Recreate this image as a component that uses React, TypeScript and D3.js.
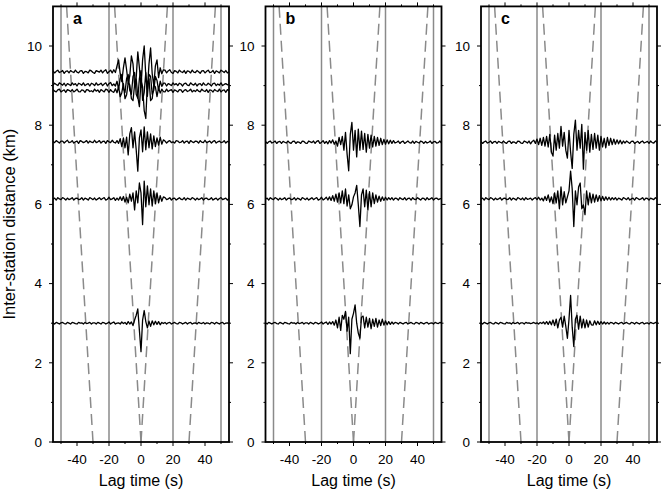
import React from "react";
import * as d3 from "d3";

// Lag time sample grid: t = -55 .. 55 s, 1 s step (index i -> t = -55 + i)
const T0 = -55;

// Trace offsets from baseline, in units of 0.01 km
// Panel a
const a1 = [
  2, -3, 1, 4, -2, 0, 3, -4, 1, 2, -3, 3, 0, -2, 4, -1, -3, 2, 3, -4, 1, 0, -3, 4, 2, -2, -4, 3, 1, -1, 4, -3, 2, 5, -4, 0, 4, -3, 5, -2,
  15, 30, -5, -25, 10, 35, 5, -30, -10, 40, 20, -35, -15, 50, 10, -40, 30, 65, -10, -45, 20, 60, -5, -35, 15, 30, -15, 10, -5, 5,
  4, -3, 2, 5, -2, -4, 3, 1, -3, 4, 0, -2, 3, -4, 2, 1, -3, 4, -1, -2, 3, 0, -4, 2, 3, -3, 1, 4, -2, -1, 3, -4, 2, 0, -3, 4, 1, -2, 3, -3, 0,
];
const a2 = [
  -2, 3, 0, -3, 4, 1, -2, 3, -4, 2, 0, -3, 4, -1, 2, -4, 3, 1, -2, 4, -3, 0, 2, -4, 3, 1, -3, 4, -2, 0, 3, -3, 1, 4, -4, 2, 5, -3, 1, -4,
  8, -12, 15, 25, -10, -20, 15, 25, -15, -25, 20, 30, -25, -35, 15, 35, -40, -20, 30, -30, 25, 20, -25, -15, 20, 10, -15, 8, -5, 3,
  3, -4, 2, 0, -3, 4, -1, 2, -3, 3, 1, -4, 2, 3, -2, -3, 4, 0, -2, 3, -4, 1, 2, -3, 4, -1, -2, 3, 0, -4, 2, 3, -3, 1, -2, 4, -3, 0, 2, -1, 1,
];
const a3 = [
  3, -1, -3, 2, 4, -3, 0, 2, -4, 3, 1, -2, 3, -3, 0, 4, -2, -3, 2, 1, -4, 3, 2, -2, 0, -3, 4, -1, 2, -4, 3, 0, -3, 4, 2, -4, 3, -2, -4, 5,
  -5, 10, -15, -5, 18, -20, -10, 20, 15, -20, -25, 15, 30, -15, -40, 25, 10, -50, -70, 20, 30, -25, -20, 15, 10, -15, 8, -6, 4, -2,
  -3, 4, -2, 1, 3, -4, 2, 0, -3, 3, 2, -4, 1, 3, -2, 0, 4, -3, 1, -2, 3, -1, -3, 4, 0, -2, 3, -4, 2, 1, -3, 3, 0, -2, 4, -3, 1, 2, -4, 3, 0,
];
const a4 = [
  1, -2, 3, 0, -3, 2, 2, -3, 1, 4, -2, -1, 3, -3, 0, 2, -4, 3, 1, -2, 0, 3, -3, 2, -1, -2, 4, -2, 0, 3, -3, 1, 2, -4, 3, 0, -2, 4, -1, -3,
  3, -4, 8, -12, 10, -15, 12, -33, 20, 36, -15, 25, -20, -74, 10, 30, -25, 38, -20, 25, -15, 20, -18, 15, -12, 10, -8, 12, -6, 5,
  2, -3, 1, 3, -2, 0, -3, 3, 2, -2, -1, 3, -3, 1, 2, -4, 3, 0, -2, 2, 1, -3, 3, -1, -2, 4, -2, 0, 2, -3, 1, 3, -3, 0, 2, -2, -1, 3, -3, 1, 0,
];
const a5 = [
  -1, 2, -3, 3, 0, -2, 3, 1, -3, 2, -2, 0, 3, -3, 1, 2, -2, -1, 3, -3, 2, 0, -3, 3, 1, -2, 2, -3, 0, 3, -2, 1, 3, -3, -1, 4, -2, 0, 3, -4,
  2, -3, 5, -4, 6, -8, 4, -10, 12, -6, 15, -28, 20, -10, 40, 15, -65, 45, -20, 33, -15, 25, -18, 20, -12, 15, -10, 8, -6, 5,
  3, -2, 0, 3, -3, 1, 2, -3, 0, 3, -1, -2, 3, -3, 2, 0, -2, 3, 1, -3, 2, -2, 0, 3, -3, 1, 2, -2, -1, 3, -3, 0, 2, -3, 1, 3, -2, 0, 2, -3, 1,
];
const a6 = [
  1, -2, 2, 0, -2, 1, 2, -1, -2, 2, 0, -2, 2, 1, -1, -2, 2, 0, 1, -2, 2, -1, 0, 2, -2, 1, 1, -2, 2, 0, -2, 2, 1, -2, 0, 3, -2, 1, 3, -2,
  0, 1, -2, 3, -1, 2, -3, 4, -2, 3, -6, 8, 20, 36, -18, -72, 8, 32, 4, -12, 5, -8, 6, -4, 5, -3, 4, -4, 2, -1,
  2, -2, 1, 2, -2, 0, 2, -1, -2, 2, 1, -2, 0, 2, -2, 1, 2, -2, 0, 1, -2, 2, 0, -1, 2, -2, 1, 0, -2, 2, 1, -2, 2, 0, -2, 1, 2, -2, 0, 1, -1,
];
// Panel b
const b1 = [
  2, -3, 1, 3, -2, 0, 3, -3, 1, 2, -3, 2, 0, -2, 3, -1, -3, 2, 3, -3, 1, 0, -3, 3, 2, -2, -3, 3, 1, -1, 3, -3, 2, 4, -3, 0, 4, -3, 2, -4,
  4, -2, 6, -5, 3, -10, 12, -6, 15, -20, 25, -30, -72, 20, 50, -20, 30, -37, 33, -20, 28, -18, 22, -25, 20, -15, 18, -12, 15, -10, 12, -8, 10, -6, 7, -5, 6, -4, 5, -3,
  4, -2, 0, 3, -3, 1, 3, -3, 0, 3, -1, -2, 3, -3, 2, 0, -2, 3, 1, -3, 2, -2, 0, 3, -3, 1, 2, -2, -1, 3, -2,
];
const b2 = [
  -1, 2, -3, 3, 0, -2, 3, 1, -3, 2, -2, 0, 3, -3, 1, 2, -2, -1, 3, -3, 2, 0, -3, 3, 1, -2, 2, -3, 0, 3, -2, 1, 3, -3, -1, 4, -3, 0, 4, -3,
  5, -4, 8, -6, 12, -8, 15, -10, 20, -12, 25, -18, 10, -25, -15, 5, 15, 34, -15, -70, 10, 25, -20, 22, -28, 18, -20, 15, -12, 10, -8, 7, -6, 5, -4, 4, -3, 3, -2, 3,
  -3, 2, 1, -3, 3, 0, -2, 3, -3, 1, 2, -3, 3, -1, -2, 3, 0, -3, 2, 1, -3, 3, -2, 0, 3, -3, 1, 2, -2, 0, 1,
];
const b3 = [
  1, -2, 2, 0, -2, 1, 2, -1, -2, 2, 0, -2, 2, 1, -1, -2, 2, 0, 1, -2, 2, -1, 0, 2, -2, 1, 1, -2, 2, 0, -2, 2, 1, -2, 0, 3, -2, 1, 3, -3,
  3, -2, 4, -5, 8, -12, 15, -18, 20, 10, 30, -20, 15, -77, 10, 25, 46, 0, -25, -38, 15, 18, -12, 15, -10, 12, -14, 10, -8, 12, -10, 8, -6, 10, -5, 6, -4, 4, -3, 3,
  -2, 2, 1, -2, 2, 0, -2, 1, 2, -2, 0, 2, -1, -2, 2, 1, -2, 2, 0, -2, 1, 2, -2, 0, 1, -2, 2, 0, -1, 2, 0,
];
// Panel c
const c1 = [
  2, -3, 1, 3, -2, 0, 3, -3, 1, 2, -3, 2, 0, -2, 3, -1, -3, 2, 3, -3, 1, 0, -3, 3, 2, -2, -3, 3, 1, -2,
  3, -4, 2, 5, -3, 8, -6, 10, -8, 12,
  -10, 15, -12, 20, -25, -35, 18, -20, 22, -15,
  40, -10, 25, -20, -40, 30, -25, -66, 20, 56,
  -20, 30, -15, 45, -68, 25, -20, 30, -25, 20,
  -18, 22, -15, 18, -20, 15, -12, 10, -14, 12,
  -8, 10, -6, 8, -5, 6, -4, 5, -4, 3,
  -2, 3, 0, -3, 2, 3, -3, 0, 2, -3, 1, 3, -2, 0, 2, -3, 3, -1, -2, 3, 0,
];
const c2 = [
  -1, 2, -3, 3, 0, -2, 3, 1, -3, 2, -2, 0, 3, -3, 1, 2, -2, -1, 3, -3, 2, 0, -3, 3, 1, -2, 2, -3, 3, -1,
  0, 2, -3, 1, 3, -2, 4, -3, 2, -5,
  6, -4, 10, -8, 5, -12, 15, -10, 20, -25,
  30, -15, 18, -10, 5, 20, 70, 25, -70, 20,
  -15, 30, 40, -25, -15, -40, 20, -15, 15, -10,
  12, -8, 10, -6, 8, -5, 6, -4, 5, -3,
  4, -3, 3, -2, 3, -3, 2, 0, -3, 3,
  1, -2, 3, -3, 0, 2, -3, 3, 1, -2, 0, 3, -3, 2, 1, -3, 2, 0, -2, 3, 0,
];
const c3 = [
  1, -2, 2, 0, -2, 1, 2, -1, -2, 2, 0, -2, 2, 1, -1, -2, 2, 0, 1, -2, 2, -1, 0, 2, -2, 1, 1, -2, 2, 0,
  1, -1, 0, 2, -1, 1, -2, 2, -1, 3,
  -2, 4, -3, 5, -4, 8, -6, 10, -12, 8,
  15, -10, 18, -8, -38, 10, 70, -10, -59, 10,
  20, -15, 18, -12, 10, -12, 8, -10, 6, -4,
  -5, 6, -4, 5, -3, 4, -2, 3, -2, 2,
  -2, 2, 1, -2, 2, 0, -2, 1, 2, -2, 0, 2, -1, -2, 2, 1, -2, 2, 0, -2, 1, 2, -2, 0, 1, -2, 2, 0, -1, 2, 0,
];

// Inter-station distances (km) of each trace
const distA = [9.35, 9.03, 8.87, 7.58, 6.14, 3.0];
const distB = [7.57, 6.14, 3.0];
const distC = [7.57, 6.14, 3.0];

const panels = [
  { label: "a", traces: [a1, a2, a3, a4, a5, a6], dists: distA },
  { label: "b", traces: [b1, b2, b3], dists: distB },
  { label: "c", traces: [c1, c2, c3], dists: distC },
];

const xDomain = [-55, 55];
const yDomain = [0, 11];
const xMajor = [-40, -20, 0, 20, 40];
const xMinor = [-50, -30, -10, 10, 30, 50];
const yMajor = [0, 2, 4, 6, 8, 10];
const yMinor = [1, 3, 5, 7, 9];
const refLines = [-50, -20, 20, 50];
// move-out lines: slope in s/km, intercepts in s
const moveoutSlope = 1.5;
const moveoutIntercepts = [0, 30];

const W = 662;
const H = 491;
const panelLefts = [53, 265.5, 481];
const PW = 176;
const TOP = 6.4;
const BOTTOM = 442;
const FONT = "'Liberation Sans', Arial, Helvetica, sans-serif";
const GRAY = "#8a8a8a";

function Panel({ p, x0, idx }: { p: any; x0: number; idx: number }) {
  const x = d3.scaleLinear().domain(xDomain).range([x0, x0 + PW]);
  const y = d3.scaleLinear().domain(yDomain).range([BOTTOM, TOP]);
  const clipId = `clip-${idx}`;
  const dashLines: { t0: number; t1: number }[] = [];
  moveoutIntercepts.forEach((c) => {
    [-1, 1].forEach((s) => {
      dashLines.push({ t0: s * c, t1: s * (c + moveoutSlope * yDomain[1]) });
    });
  });
  return (
    <g>
      <defs>
        <clipPath id={clipId}>
          <rect x={x0} y={TOP} width={PW} height={BOTTOM - TOP} />
        </clipPath>
      </defs>
      <g clipPath={`url(#${clipId})`}>
        {refLines.map((t) => (
          <line key={t} x1={x(t)} x2={x(t)} y1={TOP} y2={BOTTOM} stroke={GRAY} strokeWidth={1.5} />
        ))}
        {dashLines.map((d, i) => (
          <line
            key={i}
            x1={x(d.t0)}
            y1={y(0)}
            x2={x(d.t1)}
            y2={y(yDomain[1])}
            stroke={GRAY}
            strokeWidth={1.5}
            strokeDasharray="11,6"
          />
        ))}
        {p.traces.map((tr: number[], i: number) => {
          const base = p.dists[i];
          const line = d3
            .line<number>()
            .x((_, k) => x(T0 + k))
            .y((v) => y(base + v / 100));
          return <path key={i} d={line(tr) || ""} fill="none" stroke="#000" strokeWidth={1.3} strokeLinejoin="round" />;
        })}
      </g>
      <rect x={x0} y={TOP} width={PW} height={BOTTOM - TOP} fill="none" stroke="#000" strokeWidth={1.8} />
      {xMajor.map((t) => (
        <g key={"xm" + t}>
          <line x1={x(t)} x2={x(t)} y1={BOTTOM} y2={BOTTOM + 4} stroke="#000" strokeWidth={1} />
          <line x1={x(t)} x2={x(t)} y1={TOP} y2={TOP - 4} stroke="#000" strokeWidth={1} />
          <text x={x(t)} y={464} textAnchor="middle" fontFamily={FONT} fontSize={13.5} fill="#000">
            {t}
          </text>
        </g>
      ))}
      {xMinor.map((t) => (
        <g key={"xn" + t}>
          <line x1={x(t)} x2={x(t)} y1={BOTTOM} y2={BOTTOM + 2} stroke="#000" strokeWidth={1} />
          <line x1={x(t)} x2={x(t)} y1={TOP} y2={TOP - 2} stroke="#000" strokeWidth={1} />
        </g>
      ))}
      {yMajor.map((v) => (
        <g key={"ym" + v}>
          <line x1={x0} x2={x0 - 4} y1={y(v)} y2={y(v)} stroke="#000" strokeWidth={1} />
          <line x1={x0 + PW} x2={x0 + PW + 4} y1={y(v)} y2={y(v)} stroke="#000" strokeWidth={1} />
          <text x={x0 - 11} y={y(v)} dy="0.36em" textAnchor="end" fontFamily={FONT} fontSize={13.5} fill="#000">
            {v}
          </text>
        </g>
      ))}
      {yMinor.map((v) => (
        <g key={"yn" + v}>
          <line x1={x0} x2={x0 - 2} y1={y(v)} y2={y(v)} stroke="#000" strokeWidth={1} />
          <line x1={x0 + PW} x2={x0 + PW + 2} y1={y(v)} y2={y(v)} stroke="#000" strokeWidth={1} />
        </g>
      ))}
      <text x={x0 + 20} y={24} fontFamily={FONT} fontSize={16} fontWeight="bold" fill="#000">
        {p.label}
      </text>
      <text x={x0 + PW / 2} y={486} textAnchor="middle" fontFamily={FONT} fontSize={16} fill="#000">
        Lag time (s)
      </text>
    </g>
  );
}

export default function App() {
  return (
    <svg width={W} height={H} style={{ position: "absolute", left: 0, top: 0, background: "#fff" }}>
      <rect x={0} y={0} width={W} height={H} fill="#fff" />
      {panels.map((p, i) => (
        <Panel key={p.label} p={p} x0={panelLefts[i]} idx={i} />
      ))}
      <text
        transform={`translate(15,${(TOP + BOTTOM) / 2}) rotate(-90)`}
        textAnchor="middle"
        fontFamily={FONT}
        fontSize={16.5}
        fill="#000"
      >
        Inter-station distance (km)
      </text>
    </svg>
  );
}
